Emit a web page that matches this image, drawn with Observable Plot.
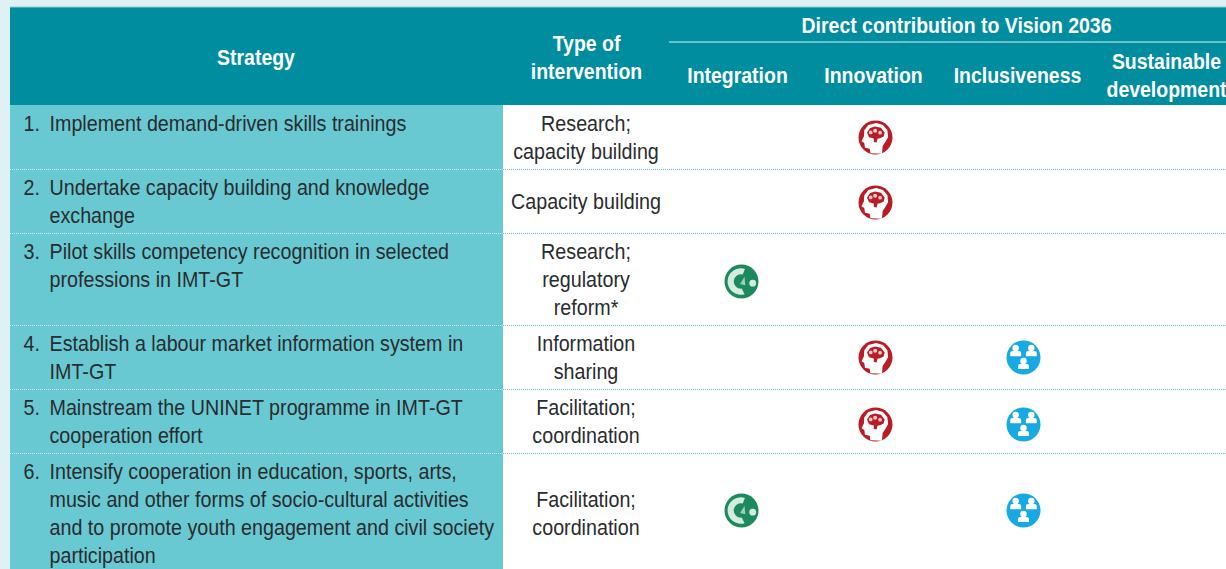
<!DOCTYPE html>
<html>
<head>
<meta charset="utf-8">
<script src="https://cdn.jsdelivr.net/npm/d3@7"></script>
<script src="https://cdn.jsdelivr.net/npm/@observablehq/plot@0.6"></script>
<style>
html,body{margin:0;padding:0;background:#e0f1f5;overflow:hidden}
svg{display:block}
</style>
</head>
<body>
<div id="chart"></div>
<script>
// ---- table content ----
const numbers = ["1.", "2.", "3.", "4.", "5.", "6."];
const strategies = [
  "Implement demand-driven skills trainings",
  "Undertake capacity building and knowledge\nexchange",
  "Pilot skills competency recognition in selected\nprofessions in IMT-GT",
  "Establish a labour market information system in\nIMT-GT",
  "Mainstream the UNINET programme in IMT-GT\ncooperation effort",
  "Intensify cooperation in education, sports, arts,\nmusic and other forms of socio-cultural activities\nand to promote youth engagement and civil society\nparticipation"
];
const interventions = [
  "Research;\ncapacity building",
  "Capacity building",
  "Research;\nregulatory\nreform*",
  "Information\nsharing",
  "Facilitation;\ncoordination",
  "Facilitation;\ncoordination"
];
const pillars = ["Integration", "Innovation", "Inclusiveness", "Sustainable\ndevelopment"];
const integration = [0, 0, 1, 0, 0, 1];
const innovation = [1, 1, 0, 1, 1, 0];
const inclusiveness = [0, 0, 0, 1, 1, 1];
const sustainable = [0, 0, 0, 0, 0, 0];
const rowLines = [2, 2, 3, 2, 2, 4];

// ---- layout ----
const W = 1226, H = 569;
const LH = 28, PAD = 8, HEAD_TOP = 7, HEAD_BOT = 105, LEFT = 10, COL2 = 503, COL3 = 669;
const FONT = "'Liberation Sans',sans-serif";
const headCx = [737, 873, 1017, 1166];
const iconCx = [741, 875, 1023, 1165];
const iconDy = [0, 1, 2, 0, 3, -3];
const C = {page:"#e0f1f5", head:"#008d9f", cell:"#69c9d2", rule:"#62c1cb", hl:"#8ed0d6", ink:"#2a2c2e"};

let cursor = HEAD_BOT;
const rows = rowLines.map((n, i) => {
  const h = n * LH + PAD, r = {i, y1: cursor, y2: cursor + h, cy: cursor + h / 2};
  cursor += h; return r;
});

// ---- pictograms, drawn in a unit circle scaled by radius ----
function symbol(draw){ return {draw(ctx, size){ draw(ctx, Math.sqrt(size / Math.PI)); }}; }
const circ = (c,x,y,r)=>{c.moveTo(x+r,y);c.arc(x,y,r,0,2*Math.PI);c.closePath();};
const poly = (c,r,p)=>{p.forEach(([x,y],i)=> i? c.lineTo(x*r,y*r): c.moveTo(x*r,y*r)); c.closePath();};
const headSym = symbol((c,r)=>poly(c,r,[[-.3,.92],[-.34,.66],[-.62,.6],[-.66,.32],[-.82,.22],[-.68,-.08],[-.66,-.42],[-.42,-.74],[.04,-.86],[.44,-.74],[.7,-.42],[.74,-.02],[.56,.3],[.42,.5],[.38,.95]]));
const brainSym = symbol((c,r)=>poly(c,r,[[-.5,-.3],[-.32,-.56],[-.02,-.64],[.32,-.58],[.54,-.3],[.48,-.06],[.26,.04],[.12,.08],[.06,.3],[-.1,.26],[-.1,.06],[-.38,-.02]]));
const brainDots = symbol((c,r)=>{ circ(c,-.28*r,-.3*r,.11*r); circ(c,-.02*r,-.4*r,.12*r); circ(c,.27*r,-.28*r,.11*r); });
const swirlSym = symbol((c,r)=>{
  c.moveTo(.2*r,-.74*r);
  c.arc(-.04*r,0,.78*r,-1.25,-5.0,true);
  c.lineTo(.02*r,.42*r);
  c.arc(-.04*r,0,.42*r,1.42,-1.3,false);
  c.closePath();
  circ(c,.66*r,.1*r,.2*r);
});
const swirlCore = symbol((c,r)=>poly(c,r,[[-.08,.14],[.18,-.28],[.22,.22]]));
const peopleSym = symbol((c,r)=>{
  [[-.46,-.36],[.46,-.36],[0,.4]].forEach(([x,y])=>{
    circ(c,x*r,(y-.2)*r,.19*r);
    c.moveTo((x-.32)*r,(y+.28)*r);
    c.lineTo((x-.32)*r,(y+.08)*r);
    c.quadraticCurveTo((x-.32)*r,(y-.02)*r,(x-.18)*r,(y-.02)*r);
    c.lineTo((x+.18)*r,(y-.02)*r);
    c.quadraticCurveTo((x+.32)*r,(y-.02)*r,(x+.32)*r,(y+.08)*r);
    c.lineTo((x+.32)*r,(y+.28)*r);
    c.closePath();
  });
});

const marksOf = (flags, col) => flags.flatMap((f, i) => f ? [{x: iconCx[col], y: rows[i].cy + iconDy[i]}] : []);
const dots = (d, fill, sym, r = 17) => Plot.dot(d, {x:"x", y:"y", r, fill, stroke:"none", symbol: sym});
const circleSym = "circle";

const greens = marksOf(integration, 0), reds = marksOf(innovation, 1), blues = marksOf(inclusiveness, 2);

const txt = (d, o) => Plot.text(d, {fontFamily: FONT, lineHeight: LH / o.fontSize, ...o});
const headerText = {fill:"#fff", fontWeight:"bold", fontSize:21.5};
const bodyText = {fill:C.ink, fontSize:21.5};

const chart = Plot.plot({
  width: W, height: H, margin: 0,
  x: {domain:[0, W], range:[0, W], axis:null},
  y: {domain:[0, H], range:[0, H], axis:null},
  style: {background: C.page},
  marks: [
    Plot.rect([{}], {x1:()=>LEFT, x2:()=>W, y1:()=>HEAD_TOP, y2:()=>H, fill:"#fff"}),
    Plot.rect([{}], {x1:()=>LEFT, x2:()=>W, y1:()=>HEAD_TOP, y2:()=>HEAD_BOT, fill:C.head}),
    Plot.rect(rows, {x1:()=>LEFT, x2:()=>COL2, y1:"y1", y2:"y2", fill:C.cell}),
    Plot.ruleY([HEAD_TOP - .5], {x1:LEFT, x2:W, stroke:"#8fcbd3", strokeWidth:1}),
    Plot.ruleY([41.5], {x1:COL3, x2:W, stroke:C.hl, strokeWidth:1.5}),
    Plot.ruleY(rows.slice(0, 5), {y: d => d.y2, x1:LEFT, x2:COL2, stroke:"#d6f0f2", strokeWidth:1, strokeDasharray:"1 1"}),
    Plot.ruleY(rows.slice(0, 5), {y: d => d.y2, x1:COL2, x2:W, stroke:C.rule, strokeWidth:1, strokeDasharray:"1 1"}),

    // header
    txt(["Strategy"], {...headerText, x:()=>255.5, y:()=>55.5}),
    txt(["Type of\nintervention"], {...headerText, x:()=>586, y:()=>55.5}),
    txt(["Direct contribution to Vision 2036"], {...headerText, x:()=>956, y:()=>23.5}),
    txt(pillars, {...headerText, x:(d,i)=>headCx[i], y:()=>73.5}),

    // rows
    txt(rows, {...bodyText, x:()=>23, y:d=>d.y1+16.5, text:d=>numbers[d.i], textAnchor:"start"}),
    txt(rows, {...bodyText, x:()=>49, y:d=>d.y1+6, text:d=>strategies[d.i], textAnchor:"start", lineAnchor:"top"}),
    txt(rows, {...bodyText, x:()=>585.5, y:d=>d.cy-1, text:d=>interventions[d.i]}),

    // pictograms
    dots(greens, "#1d8a5e", circleSym),
    dots(greens, "#d4ebe0", swirlSym),
    dots(greens, "#9fcfb8", swirlCore),
    dots(reds, "#b81c24", circleSym),
    dots(reds, "#fff", headSym),
    dots(reds, "#b81c24", brainSym),
    dots(reds, "#f2c9c9", brainDots),
    dots(blues, "#16a9e4", circleSym),
    dots(blues, "#fff", peopleSym)
  ]
});
document.getElementById("chart").append(chart);

// The reference face is condensed: narrow each real text line to its measured width.
chart.querySelectorAll('g[aria-label="text"]').forEach(g => {
  const ratio = g.getAttribute("font-weight") === "bold" ? 0.905 : 0.916;
  g.querySelectorAll("text").forEach(t => {
    const spans = t.querySelectorAll("tspan");
    (spans.length ? [...spans] : [t]).forEach(el => {
      el.setAttribute("textLength", (el.getComputedTextLength() * ratio).toFixed(2));
      el.setAttribute("lengthAdjust", "spacingAndGlyphs");
    });
  });
});
</script>
</body>
</html>
